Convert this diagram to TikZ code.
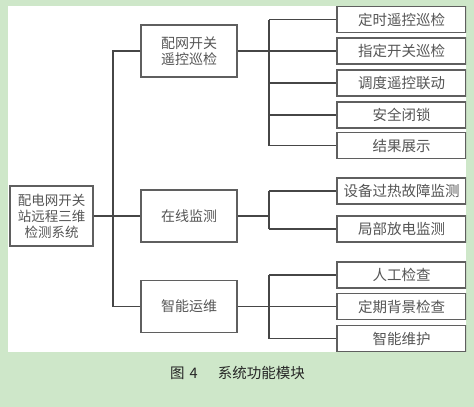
\documentclass[tikz,border=0pt]{standalone}
\usepackage{fontspec}
\usepackage{xcolor}
\usetikzlibrary{positioning,calc}
\newfontfamily\cjk{Noto Sans CJK SC}
\definecolor{pagegreen}{RGB}{206,231,201}
\definecolor{boxgray}{RGB}{95,95,95}
\definecolor{linegray}{RGB}{70,70,70}
\definecolor{textgray}{RGB}{85,85,85}

\begin{document}
\begin{tikzpicture}[x=1pt, y=-1pt,
    sysbox/.style={draw=boxgray, line width=1.3pt, minimum width=83pt, minimum height=60pt, inner sep=0pt, align=center, text=textgray, font=\cjk\fontsize{13.5}{16}\selectfont},
    modbox/.style={draw=boxgray, line width=1.3pt, minimum width=96pt, minimum height=52pt, inner sep=0pt, align=center, text=textgray, font=\cjk\fontsize{14}{16}\selectfont},
    funcbox/.style={draw=boxgray, line width=1.3pt, minimum width=129pt, minimum height=26pt, inner sep=0pt, align=center, text=textgray, font=\cjk\fontsize{14.5}{16}\selectfont},
    link/.style={draw=linegray, line width=1.1pt}
]
    \fill[pagegreen] (0,0) rectangle (474,407);
    \fill[white] (8,6) rectangle (466,352);
    \begin{scope}
    \clip (8,6) rectangle (466,352);
    \node[sysbox] (sys) at (51.5,216) {配电网开关\\站远程三维\\检测系统};
    \node[modbox] (remote) at (189,51) {配网开关\\遥控巡检};
    \node[modbox] (online) at (189,216) {在线监测};
    \node[modbox] (maint) at (189,306.5) {智能运维};
    \node[funcbox] (f1) at (401.5,19.5) {定时遥控巡检};
    \node[funcbox] (f2) at (401.5,51) {指定开关巡检};
    \node[funcbox] (f3) at (401.5,83) {调度遥控联动};
    \node[funcbox] (f4) at (401.5,115) {安全闭锁};
    \node[funcbox] (f5) at (401.5,145.5) {结果展示};
    \node[funcbox] (f6) at (401.5,191) {设备过热故障监测};
    \node[funcbox] (f7) at (401.5,229) {局部放电监测};
    \node[funcbox] (f8) at (401.5,275) {人工检查};
    \node[funcbox] (f9) at (401.5,306.5) {定期背景检查};
    \node[funcbox] (f10) at (401.5,338.5) {智能维护};
    \end{scope}
    \coordinate (trunk) at (113,0);
    \coordinate (branch) at (269,0);
    % system to modules
    \draw[link] (sys.east) -- (online.west);
    \draw[link] (remote.west) -- (remote.west -| trunk) -- (maint.west -| trunk) -- (maint.west);
    % modules to functions
    \draw[link] (remote.east) -- (remote.east -| branch);
    \draw[link] (f1.west -| branch) -- (f5.west -| branch);
    \foreach \f in {f1,f2,f3,f4,f5}
        \draw[link] (\f.west -| branch) -- (\f.west);
    \draw[link] (online.east) -- (online.east -| branch);
    \draw[link] (f6.west -| branch) -- (f7.west -| branch);
    \foreach \f in {f6,f7}
        \draw[link] (\f.west -| branch) -- (\f.west);
    \draw[link] (maint.east) -- (maint.east -| branch);
    \draw[link] (f8.west -| branch) -- (f10.west -| branch);
    \foreach \f in {f8,f9,f10}
        \draw[link] (\f.west -| branch) -- (\f.west);
    \node[font=\cjk\fontsize{14.5}{16}\selectfont, text=black!85] (caption) at (237.5,373) {图\hspace{5pt}4\hspace{20pt}系统功能模块};
\end{tikzpicture}
\end{document}
